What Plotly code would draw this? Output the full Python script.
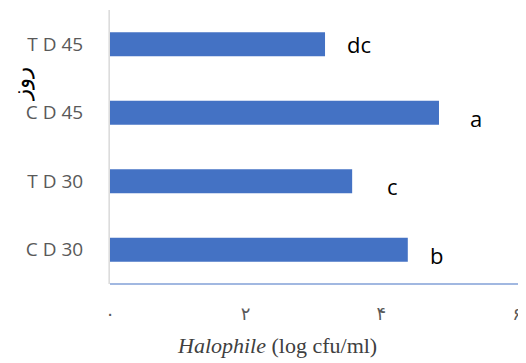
import plotly.graph_objects as go

categories = ["C D 30", "T D 30", "C D 45", "T D 45"]
values = [4.39, 3.57, 4.85, 3.17]
letters = ["b", "c", "a", "dc"]
letter_shift_x = [20, 33, 29, 20]
letter_shift_y = [-5, -5, -5, 0]
tick_vals = [0, 2, 4, 6]
tick_text = ["٠", "٢", "۴", "۶"]

# page has an 8px body margin; compensate so the plot lands where the reference has it
OFF = 8
W, H = 526 - OFF, 363 - OFF
L, T, B, R = 110 - OFF, 10 - OFF, 363 - 284, 0
PW, PH = W - L - R, H - T - B

fig = go.Figure()
fig.add_trace(go.Bar(
    y=categories, x=values, orientation="h",
    marker=dict(color="#4472C4", line=dict(width=0)),
    width=0.35,
))

for c, v, l, dx, dy in zip(categories, values, letters, letter_shift_x, letter_shift_y):
    fig.add_annotation(x=v, y=c, text=l, showarrow=False, xanchor="left",
                       xshift=dx, yshift=dy,
                       font=dict(family="Open Sans", size=22, color="#000000"))

fig.add_annotation(xref="paper", yref="paper", x=(277 - 110) / PW, y=-(345 - 284) / PH,
                   xanchor="center", yanchor="middle",
                   text="<i>Halophile</i> (log cfu/ml)", showarrow=False,
                   font=dict(family="Liberation Serif", size=22, color="#404040"))
fig.add_annotation(xref="paper", yref="paper", x=-(110 - 21) / PW, y=(284 - 84) / PH,
                   xanchor="center", yanchor="middle",
                   text="روز", textangle=-90, showarrow=False,
                   font=dict(family="DejaVu Serif", size=23, color="#000000"))

fig.update_layout(
    width=W, height=H,
    margin=dict(l=L, r=R, t=T, b=B),
    paper_bgcolor="white", plot_bgcolor="white",
    showlegend=False,
    xaxis=dict(range=[0, 6 * PW / (517 - 110)], tickvals=tick_vals, ticktext=tick_text,
               showgrid=False, zeroline=False, showline=False,
               ticks="outside", ticklen=13, tickcolor="rgba(0,0,0,0)",
               ticklabeloverflow="allow",
               tickfont=dict(family="DejaVu Sans", size=18, color="#595959")),
    yaxis=dict(range=[-0.5, 3.5], showgrid=False, zeroline=False,
               showline=False, ticks="outside", ticklen=22,
               tickcolor="rgba(0,0,0,0)",
               tickfont=dict(family="Open Sans", size=19, color="#595959")),
)
fig.add_shape(type="line", xref="paper", yref="paper", x0=0, x1=1, y0=0, y1=0,
              line=dict(color="#4472C4", width=1.2))
fig.add_shape(type="line", xref="paper", yref="paper", x0=-0.002, x1=-0.002, y0=0, y1=1,
              line=dict(color="#D9D9D9", width=1.5))

fig.write_html("out.html")
